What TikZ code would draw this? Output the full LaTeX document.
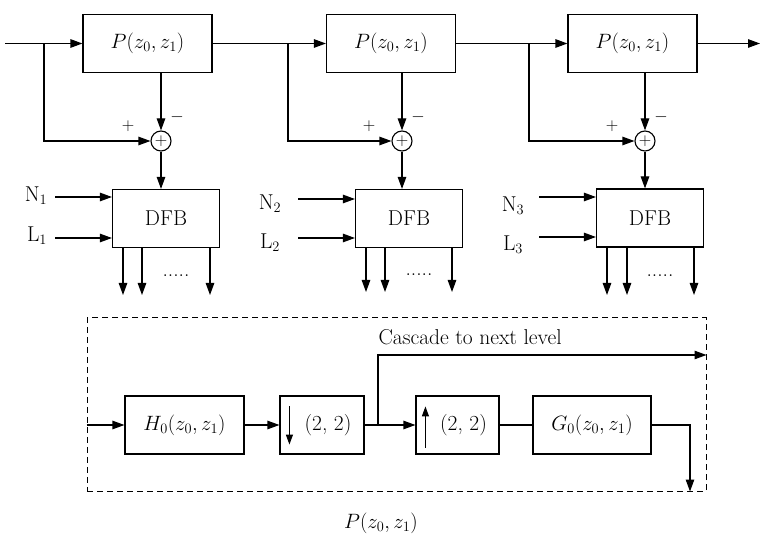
\documentclass[tikz,border=0pt]{standalone}
\usetikzlibrary{arrows.meta}
\begin{document}
\begin{tikzpicture}[x=1pt,y=-1pt,
  line width=1.15pt,
  arr/.style={-{Triangle[length=12pt,width=8.5pt]}},
  smallarr/.style={-{Triangle[length=10pt,width=7pt]}},
  txt/.style={font=\fontsize{21.5}{25}\selectfont},
  box/.style={draw,txt,minimum width=#1,minimum height=58pt,inner sep=0pt},
  box/.default=129pt,
  sumc/.style={draw,circle,minimum size=20pt,inner sep=0pt,font=\fontsize{17}{19}\selectfont},
  sgn/.style={font=\fontsize{16}{18}\selectfont,inner sep=0pt},
  frame/.style={draw,line width=1pt,dash pattern=on 6pt off 4pt,minimum width=619pt,minimum height=173pt,inner sep=0pt}
]
\useasboundingbox (0,0) rectangle (761,537);

% ---------- top stage boxes ----------
\node[box] (p1) at (147.5,43.5) {$P(z_0, z_1)$};
\node[box] (p2) at (391,43.5) {$P(z_0, z_1)$};
\node[box] (p3) at (632.5,43.5) {$P(z_0, z_1)$};

\coordinate (in) at (5,43.5);
\coordinate (out) at (760,43.5);
\coordinate (b1) at (44,43.5);
\coordinate (b2) at (288,43.5);
\coordinate (b3) at (529,43.5);

\draw[arr] (in) -- (p1.west);
\draw[arr] (p1.east) -- (p2.west);
\draw[arr] (p2.east) -- (p3.west);
\draw[arr] (p3.east) -- (out);

% ---------- summing junctions ----------
\node[sumc] (s1) at (161,141) {$+$};
\node[sumc] (s2) at (402,141) {$+$};
\node[sumc] (s3) at (645,141) {$+$};

\foreach \i in {1,2,3}{
  \draw[arr] (s\i |- p\i.south) -- (s\i.north);
  \draw[arr] (b\i) |- (s\i.west);
  \node[sgn] at ([xshift=-33pt,yshift=15pt]s\i.center) {$+$};
  \node[sgn] at ([xshift=16pt,yshift=24pt]s\i.center) {$-$};
}

% ---------- DFB boxes ----------
\node[box=107pt] (d1) at (166,218.5) {DFB};
\node[box=107pt] (d2) at (409,218.5) {DFB};
\node[box=107pt] (d3) at (650,218) {DFB};

\foreach \i in {1,2,3}{
  \draw[arr] (s\i.south) -- (s\i |- d\i.north);
}

% inputs N, L
\node[txt,inner sep=0pt] (n1) at (36,196) {N$_1$};
\node[txt,inner sep=0pt] (l1) at (37,236) {L$_1$};
\node[txt,inner sep=0pt] (n2) at (270,204) {N$_2$};
\node[txt,inner sep=0pt] (l2) at (270,243) {L$_2$};
\node[txt,inner sep=0pt] (n3) at (513,206) {N$_3$};
\node[txt,inner sep=0pt] (l3) at (513,245) {L$_3$};

\coordinate (na1) at (55,197);  \coordinate (la1) at (55,238);
\coordinate (na2) at (298,199); \coordinate (la2) at (298,238);
\coordinate (na3) at (539,197); \coordinate (la3) at (539,237);

\foreach \i in {1,2,3}{
  \draw[arr] (na\i) -- (na\i -| d\i.west);
  \draw[arr] (la\i) -- (la\i -| d\i.west);
}

% outputs
\coordinate (o1a) at (123,295); \coordinate (o1b) at (142,295); \coordinate (o1c) at (210,295);
\coordinate (o2a) at (366,292); \coordinate (o2b) at (385,292); \coordinate (o2c) at (452,292);
\coordinate (o3a) at (607,295); \coordinate (o3b) at (627,295); \coordinate (o3c) at (694,295);
\foreach \i in {1,2,3}{
  \foreach \j in {a,b,c}{
    \draw[arr] (o\i\j |- d\i.south) -- (o\i\j);
  }
}
\node[txt,inner sep=0pt,anchor=base] (dots1) at (176,277) {.....};
\node[txt,inner sep=0pt,anchor=base] (dots2) at (419,276) {.....};
\node[txt,inner sep=0pt,anchor=base] (dots3) at (660,277) {.....};

% ---------- lower detail ----------
\node[frame] (fr) at (396.5,404.5) {};

\node[box=119pt] (h0) at (184.5,425) {$H_0(z_0, z_1)$};
\node[box=84pt] (dn) at (322,425) {\hspace*{12pt}(2, 2)};
\node[box=83pt] (up) at (457.5,425) {\hspace*{12pt}(2, 2)};
\node[box=118pt] (g0) at (592,425) {$G_0(z_0, z_1)$};

\draw[smallarr] ([xshift=10pt,yshift=-11pt]dn.north west) -- ([xshift=10pt,yshift=10pt]dn.south west);
\draw[smallarr] ([xshift=10pt,yshift=7pt]up.south west) -- ([xshift=10pt,yshift=-11pt]up.north west);

\draw[arr] (fr.west |- h0.west) -- (h0.west);
\draw[arr] (h0.east) -- (dn.west);
\draw[arr] (dn.east) -- (up.west);
\draw (up.east) -- (g0.west);

\coordinate (bc) at (378,425);
\coordinate (ct) at (378,355);
\draw[arr] (bc) -- (ct) -- (ct -| fr.east);
\node[txt,inner sep=0pt,anchor=base west] (cas) at (378,345) {Cascade to next level};

\coordinate (gc) at (690,425);
\draw[arr] (g0.east) -- (gc) -- (gc |- fr.south);

\node[txt,inner sep=0pt] (lbl) at (381,523) {$P(z_0,z_1)$};
\end{tikzpicture}
\end{document}
